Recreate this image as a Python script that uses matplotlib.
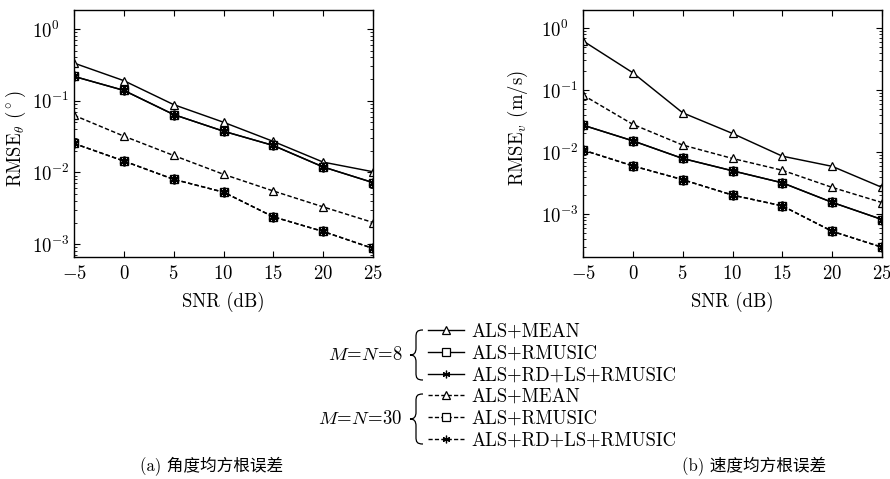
import matplotlib
matplotlib.use('Agg')
from matplotlib import pyplot as plt
from matplotlib.path import Path
from matplotlib.patches import PathPatch
from matplotlib.lines import Line2D
import numpy as np

plt.rcParams['font.family'] = ['cmr10', 'Noto Sans CJK SC']
plt.rcParams['mathtext.fontset'] = 'cm'
plt.rcParams['axes.formatter.use_mathtext'] = True
plt.rcParams['axes.unicode_minus'] = True

snr = [-5, 0, 5, 10, 15, 20, 25]

# (a) angle RMSE
ang_mean_8 = [0.334, 0.19, 0.088, 0.050, 0.027, 0.0139, 0.0102]
ang_rmusic_8 = [0.218, 0.139, 0.064, 0.0375, 0.0237, 0.0119, 0.0072]
ang_rdls_8 = [0.218, 0.139, 0.064, 0.0375, 0.0237, 0.0119, 0.0072]
ang_mean_30 = [0.0625, 0.032, 0.0172, 0.0094, 0.0055, 0.0033, 0.0020]
ang_rmusic_30 = [0.0253, 0.0144, 0.0080, 0.0053, 0.0024, 0.0015, 0.00087]
ang_rdls_30 = [0.0253, 0.0144, 0.0080, 0.0053, 0.0024, 0.0015, 0.00087]

# (b) velocity RMSE
vel_mean_8 = [0.62, 0.19, 0.043, 0.020, 0.0086, 0.0059, 0.0027]
vel_rmusic_8 = [0.0272, 0.0152, 0.0079, 0.0050, 0.0032, 0.00155, 0.00082]
vel_rdls_8 = [0.0272, 0.0152, 0.0079, 0.0050, 0.0032, 0.00155, 0.00082]
vel_mean_30 = [0.083, 0.028, 0.013, 0.0079, 0.0051, 0.0027, 0.00154]
vel_rmusic_30 = [0.0108, 0.0060, 0.0036, 0.00203, 0.00136, 0.00053, 0.000293]
vel_rdls_30 = [0.0108, 0.0060, 0.0036, 0.00203, 0.00136, 0.00053, 0.000293]

methods = ['ALS+MEAN', 'ALS+RMUSIC', 'ALS+RD+LS+RMUSIC']
captions = ['(a) 角度均方根误差', '(b) 速度均方根误差']

W, H = 890, 479
FS = 13.5
ast = (6, 2, 0)
dash = (3, 1.6)


def draw(ax, series):
	for y, mk, ls in series:
		kw = dict(color='k', lw=1.05, mfc='white', mec='k')
		if ls == '--':
			kw['dashes'] = dash
		if mk == '^':
			kw.update(ms=5.8, mew=0.9)
		elif mk == 's':
			kw.update(ms=6.0, mew=1.0)
		else:
			kw.update(ms=7.0, mew=1.6)
		ax.plot(snr, y, marker=mk, **kw)
	ax.set_yscale('log')
	ax.set_xlim(-5, 25)
	ax.set_xticks(snr)
	ax.tick_params(which='both', direction='in', top=True, right=True, labelsize=FS)
	ax.tick_params(which='major', length=4, width=0.8, pad=6)
	ax.tick_params(which='minor', length=2, width=0.6)
	ax.tick_params(axis='y', which='major', pad=30)
	for s in ax.spines.values():
		s.set_linewidth(1.0)
	ax.set_xlabel('SNR (dB)', fontsize=FS, labelpad=6)


fig = plt.figure(figsize=(W / 100, H / 100), dpi=100)
axa = fig.add_axes([74 / W, 1 - 257 / H, 299 / W, 247 / H])
axb = fig.add_axes([583 / W, 1 - 257 / H, 299 / W, 247 / H])

draw(axa, [(ang_mean_8, '^', '-'), (ang_rmusic_8, 's', '-'), (ang_rdls_8, ast, '-'),
           (ang_mean_30, '^', '--'), (ang_rmusic_30, 's', '--'), (ang_rdls_30, ast, '--')])
axa.set_ylim(10 ** -3.18, 10 ** 0.264)
axa.set_ylabel(r'RMSE$_\theta$ ($^\circ$)', fontsize=FS)
axa.yaxis.set_label_coords(-0.154, 0.48)

draw(axb, [(vel_mean_8, '^', '-'), (vel_rmusic_8, 's', '-'), (vel_rdls_8, ast, '-'),
           (vel_mean_30, '^', '--'), (vel_rmusic_30, 's', '--'), (vel_rdls_30, ast, '--')])
axb.set_ylim(10 ** -3.69, 10 ** 0.29)
axb.set_ylabel(r'RMSE$_v$ (m/s)', fontsize=FS)
axb.yaxis.set_label_coords(-0.177, 0.52)

for ax in (axa, axb):
	for t in ax.get_yticklabels():
		t.set_ha('left')

# legend
handles = []
for ls in ['-', '--']:
	for mk in ['^', 's', ast]:
		kw = dict(color='k', lw=1.0, mfc='white', mec='k', mew=0.9)
		if ls == '--':
			kw['dashes'] = dash
		handles.append(Line2D([], [], marker=mk, ms=5.5, **kw))
fig.legend(handles, methods + methods, loc='upper left', bbox_to_anchor=(428 / W, 1 - 323 / H),
           frameon=False, fontsize=FS, handlelength=1.9, handletextpad=0.4,
           labelspacing=0.2, borderpad=0, borderaxespad=0)


def brace(xt, y0, y1):
	xs, xe = xt + 6, xt + 13
	ym = (y0 + y1) / 2
	pts = [(xe, y0), (xs + 1, y0), (xs, y0 + 2), (xs, y0 + 7),
	       (xs, ym - 7),
	       (xs, ym - 2), (xs - 2, ym), (xt, ym),
	       (xs - 2, ym), (xs, ym + 2), (xs, ym + 7),
	       (xs, y1 - 7),
	       (xs, y1 - 2), (xs + 1, y1), (xe, y1)]
	codes = [Path.MOVETO] + [Path.CURVE4] * 3 + [Path.LINETO] + [Path.CURVE4] * 6 + \
		[Path.LINETO] + [Path.CURVE4] * 3
	pts = [(x / W, 1 - y / H) for x, y in pts]
	fig.patches.append(PathPatch(Path(pts, codes), fill=False, lw=0.9, ec='k',
	                             transform=fig.transFigure, figure=fig))


brace(410, 330, 380)
brace(410, 394, 444)
fig.text(403 / W, 1 - 355 / H, r'$M\!=\!N\!=\!8$', fontsize=FS, ha='right', va='center')
fig.text(403 / W, 1 - 419 / H, r'$M\!=\!N\!=\!30$', fontsize=FS, ha='right', va='center')

fig.text(212 / W, 1 - 466 / H, captions[0], fontsize=12, ha='center', va='center')
fig.text(754 / W, 1 - 466 / H, captions[1], fontsize=12, ha='center', va='center')

fig.savefig('out.png', dpi=100)
